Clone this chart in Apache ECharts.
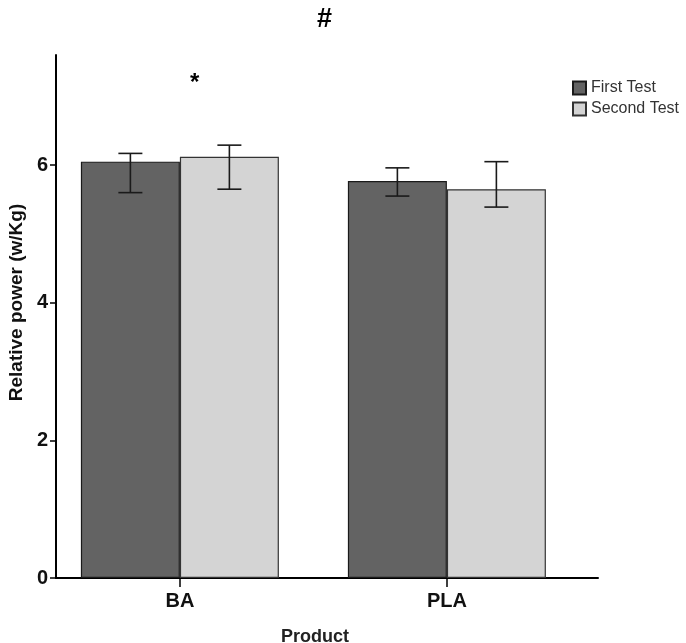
<!DOCTYPE html>
<html>
<head>
<meta charset="utf-8">
<script src="https://cdn.jsdelivr.net/npm/echarts@6/dist/echarts.min.js"></script>
<style>html,body{margin:0;padding:0;background:#fff}#c{width:686px;height:643px}</style>
</head>
<body>
<div id="c"></div>
<script>
const categories = ['BA', 'PLA'];
const seriesNames = ['First Test', 'Second Test'];
const firstTest = [6.05, 5.77];
const secondTest = [6.12, 5.65];
const firstLow = [5.60, 5.55];
const firstHigh = [6.17, 5.96];
const secondLow = [5.65, 5.39];
const secondHigh = [6.29, 6.05];
const yTicks = [0, 2, 4, 6];

const BAR_W = 99;
const colors = ['#636363', '#d4d4d4'];

const chart = echarts.init(document.getElementById('c'));

function errSeries(lo, hi, off) {
  return {
    type: 'custom',
    z: 5,
    data: categories.map((c, i) => [i, lo[i], hi[i]]),
    renderItem: function (params, api) {
      const x = api.value(0);
      const top = api.coord([x, api.value(2)]);
      const bot = api.coord([x, api.value(1)]);
      const cx = top[0] + off;
      const hw = 12;
      const st = { stroke: '#1a1a1a', lineWidth: 1.6 };
      return {
        type: 'group',
        children: [
          { type: 'line', shape: { x1: cx, y1: top[1], x2: cx, y2: bot[1] }, style: st },
          { type: 'line', shape: { x1: cx - hw, y1: top[1], x2: cx + hw, y2: top[1] }, style: st },
          { type: 'line', shape: { x1: cx - hw, y1: bot[1], x2: cx + hw, y2: bot[1] }, style: st }
        ]
      };
    }
  };
}

chart.setOption({
  animation: false,
  title: {
    text: '#',
    left: 312,
    top: 1,
    textStyle: { fontFamily: 'Liberation Sans', fontSize: 27, fontWeight: 'bold', color: '#000' }
  },
  graphic: [
    { type: 'text', left: 190, top: 71, style: { text: '*', fontFamily: 'Liberation Sans', fontSize: 24, fontWeight: 'bold', fill: '#000' } }
  ],
  legend: {
    orient: 'vertical',
    left: 572,
    top: 80,
    padding: 0,
    itemWidth: 13,
    itemHeight: 13,
    itemGap: 5,
    itemTextGap: 6,
    icon: 'rect',
    textStyle: { fontFamily: 'Liberation Sans', fontSize: 16, color: '#333' },
    data: seriesNames
  },
  grid: { left: 56, right: 88, top: 55, bottom: 65, outerBoundsMode: 'none', containLabel: false },
  xAxis: {
    type: 'value',
    min: -0.464,
    max: 1.566,
    name: 'Product',
    nameLocation: 'middle',
    nameGap: 50,
    nameTextStyle: { fontFamily: 'Liberation Sans', fontSize: 18, fontWeight: 'bold', color: '#222', padding: [0, 24, 0, 0] },
    splitLine: { show: false },
    axisLine: { show: true, onZero: false, lineStyle: { color: '#000', width: 2 } },
    axisTick: { show: true, customValues: [0, 1], length: 9, lineStyle: { color: '#000', width: 1.5 } },
    axisLabel: {
      customValues: [0, 1],
      formatter: v => categories[Math.round(v)],
      margin: 13,
      fontFamily: 'Liberation Sans', fontSize: 20, fontWeight: 'bold', color: '#111'
    }
  },
  yAxis: {
    type: 'value',
    min: 0,
    max: 7.6,
    name: 'Relative power (w/Kg)',
    nameLocation: 'middle',
    nameGap: 30,
    nameTextStyle: { fontFamily: 'Liberation Sans', fontSize: 19, fontWeight: 'bold', color: '#111', padding: [0, 0, 0, 28] },
    splitLine: { show: false },
    axisLine: { show: true, onZero: false, lineStyle: { color: '#000', width: 2 } },
    axisTick: { show: true, customValues: yTicks, length: 6, lineStyle: { color: '#000', width: 1.5 } },
    axisLabel: {
      customValues: yTicks,
      margin: 8,
      fontFamily: 'Liberation Sans', fontSize: 20, fontWeight: 'bold', color: '#111'
    }
  },
  series: [
    {
      name: seriesNames[0], type: 'bar', barWidth: BAR_W, barGap: '0%',
      itemStyle: { color: colors[0], borderColor: '#1a1a1a', borderWidth: 1.2 },
      data: categories.map((c, i) => [i, firstTest[i]])
    },
    {
      name: seriesNames[1], type: 'bar', barWidth: BAR_W, barGap: '0%',
      itemStyle: { color: colors[1], borderColor: '#333', borderWidth: 1.2 },
      data: categories.map((c, i) => [i, secondTest[i]])
    },
    errSeries(firstLow, firstHigh, -BAR_W / 2),
    errSeries(secondLow, secondHigh, BAR_W / 2)
  ]
});
</script>
</body>
</html>
